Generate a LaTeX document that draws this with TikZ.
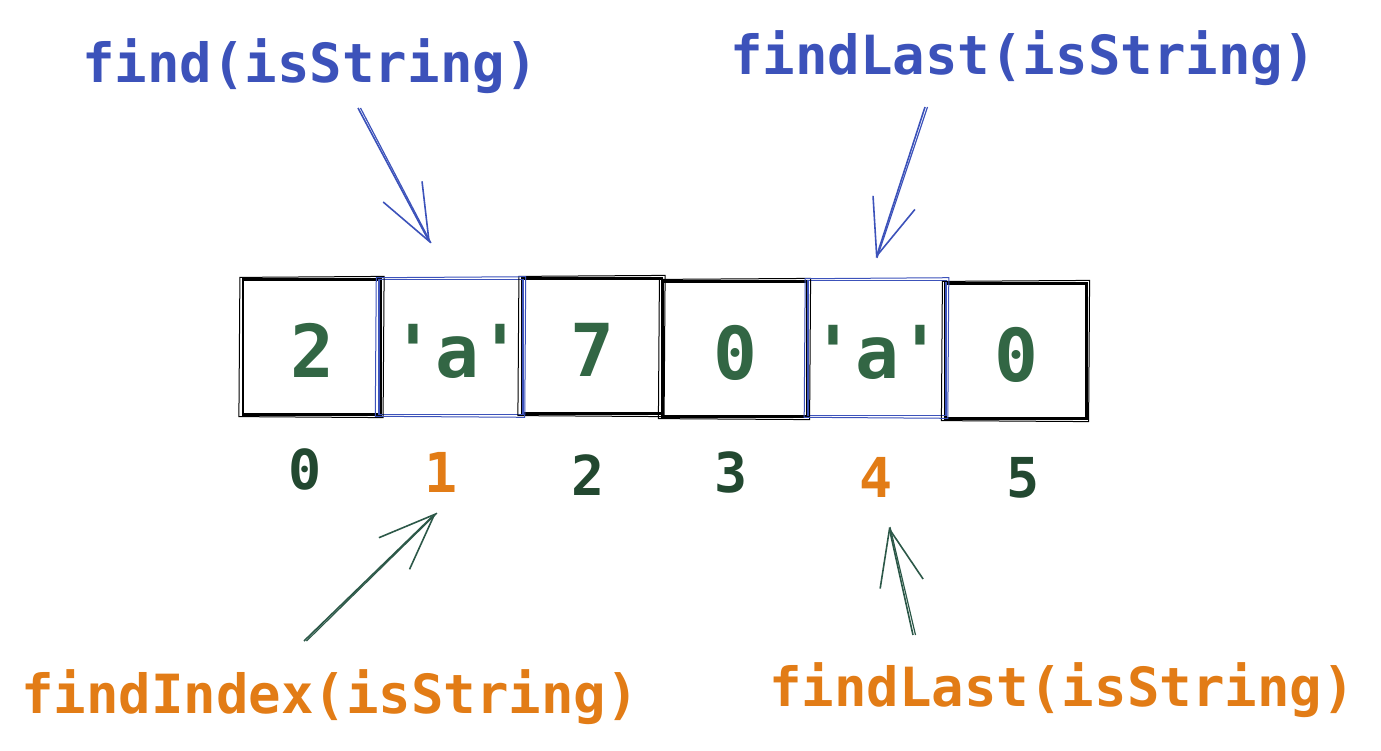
\documentclass[tikz,border=0pt]{standalone}
\usepackage{fontspec}
\newfontfamily\codefont{DejaVu Sans Mono}
\usetikzlibrary{arrows.meta}
\definecolor{lblue}{RGB}{60,82,186}
\definecolor{lorange}{RGB}{226,124,22}
\definecolor{valgreen}{RGB}{50,102,68}
\definecolor{idxgreen}{RGB}{34,72,48}
\definecolor{arrgreen}{RGB}{44,88,72}
\begin{document}
\begin{tikzpicture}[x=1pt,y=-1pt,
  cell/.style={draw=black, line width=2.2pt, minimum height=135pt, inner sep=0pt,
    text height=61pt, text depth=0pt, text=valgreen,
    font=\codefont\bfseries\fontsize{73}{80}\selectfont},
  hl/.style={draw=lblue, line width=1.6pt},
  idx/.style={anchor=base, inner sep=0pt, text=idxgreen,
    font=\codefont\bfseries\fontsize{55}{60}\selectfont},
  hit/.style={text=lorange},
  lbl/.style={anchor=base, inner sep=0pt,
    font=\codefont\bfseries\fontsize{54}{60}\selectfont},
  ptr/.style={line width=1.6pt, -{Straight Barb[length=56pt,width=44pt]}},
  shaft/.style={line width=1.2pt},
  rough/.style={line width=1pt}
]
\useasboundingbox (0,0) rectangle (1381,750);

% cells
\node[cell, minimum width=138pt] (c0) at (312,347) {2};
\node[cell, minimum width=140pt] (c2) at (592,346) {7};
\node[cell, minimum width=145pt] (c3) at (735,349) {0};
\node[cell, minimum width=141pt] (c5) at (1016,351) {0};
\node[cell, hl, minimum width=140pt] (c1) at (451,347) {\hspace*{12pt}'a'};
\node[cell, hl, minimum width=138pt] (c4) at (877,348) {'a'};

% rough second strokes
\foreach \c/\col in {c0/black,c2/black,c3/black,c5/black,c1/lblue,c4/lblue}{
  \draw[rough, draw=\col] ([shift={(-2,-1)}]\c.north west) -- ([shift={(2,-2)}]\c.north east)
     -- ([shift={(1,2)}]\c.south east) -- ([shift={(-3,1)}]\c.south west) -- cycle;
}

% indices
\node[idx] (i0) at (305,489) {0};
\node[idx, hit] (i1) at (441,492) {1};
\node[idx] (i2) at (588,495) {2};
\node[idx] (i3) at (731,492) {3};
\node[idx, hit] (i4) at (876,497) {4};
\node[idx] (i5) at (1023,497) {5};

% labels
\node[lbl, text=lblue] (find) at (310,82) {find(isString)};
\node[lbl, text=lblue] (flast) at (1023,74) {findLast(isString)};
\node[lbl, text=lorange] (fidx) at (330,713) {findIndex(isString)};
\node[lbl, text=lorange] (flast2) at (1062,706) {findLast(isString)};

% arrow end points
\coordinate (a1s) at (358,108);
\coordinate (a1e) at (430,243);
\coordinate (a2s) at (925,107);
\coordinate (a2e) at (876,258);
\coordinate (a3s) at (304,641);
\coordinate (a3e) at (436,513);
\coordinate (a4s) at (913,635);
\coordinate (a4e) at (889,527);

\draw[ptr, draw=lblue] (a1s) -- (a1e);
\draw[shaft, draw=lblue] ([xshift=2.5pt]a1s) -- ([xshift=1pt]a1e);
\draw[ptr, draw=lblue] (a2s) -- (a2e);
\draw[shaft, draw=lblue] ([xshift=2.5pt]a2s) -- ([xshift=1pt]a2e);
\draw[ptr, draw=arrgreen] (a3s) -- (a3e);
\draw[shaft, draw=arrgreen] ([xshift=2.5pt]a3s) -- ([xshift=1pt]a3e);
\draw[ptr, draw=arrgreen] (a4s) -- (a4e);
\draw[shaft, draw=arrgreen] ([xshift=2.5pt]a4s) -- ([xshift=1pt]a4e);
\end{tikzpicture}
\end{document}
